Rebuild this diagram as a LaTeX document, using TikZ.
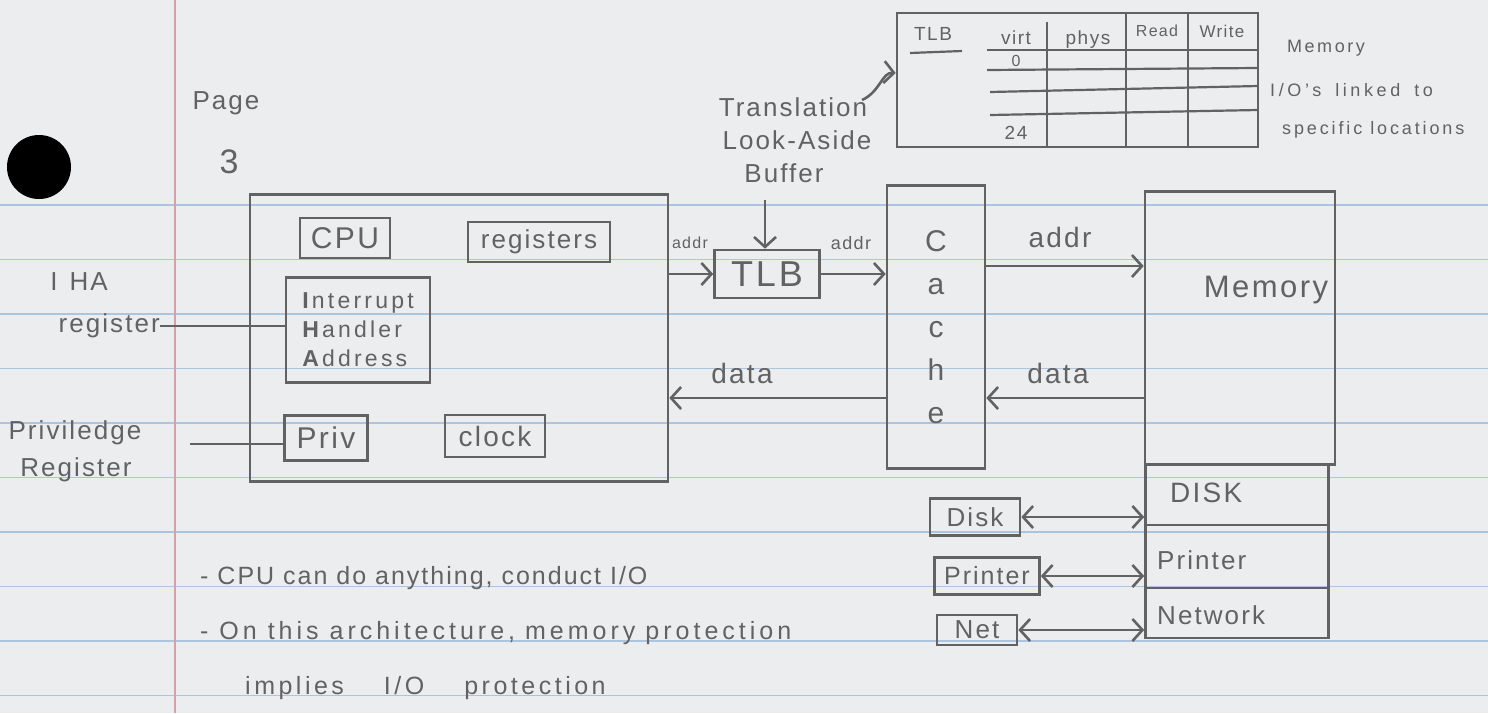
\documentclass[tikz,border=0pt]{standalone}
\usepackage{fontspec}
\setmainfont{Liberation Sans}[LetterSpace=8]
\usetikzlibrary{arrows.meta}
\definecolor{paper}{RGB}{236,237,239}
\definecolor{ink}{RGB}{98,98,100}
\definecolor{rule}{RGB}{172,196,224}
\definecolor{margin}{RGB}{214,160,170}
\newcommand{\fs}[1]{\fontsize{#1}{#1}\selectfont}
\tikzset{
  pencil/.style={draw=ink, line width=2.6pt},
  box/.style={pencil, rectangle, inner sep=0pt, text=ink},
  lbl/.style={text=ink, inner sep=0pt},
  arr/.style={pencil, -{Straight Barb[length=10pt,width=22pt,line width=2.6pt]}},
  darr/.style={pencil, {Straight Barb[length=10pt,width=22pt,line width=2.6pt]}-{Straight Barb[length=10pt,width=22pt,line width=2.6pt]}},
  thinline/.style={draw=ink, line width=2.2pt}
}
\begin{document}
\begin{tikzpicture}[x=1pt,y=-1pt]
\useasboundingbox (0,0) rectangle (1488,713);
\fill[paper] (0,0) rectangle (1488,713);
% ruled lines
\foreach \yy in {205,259.5,314,368.5,423,477.5,532,586.5,641,695.5}
  \draw[rule, line width=1.6pt] (0,\yy) -- (1488,\yy);
\draw[margin, line width=2pt] (175,0) -- (175,713);
\fill[black] (39,167) circle (32);

% page number
\node[lbl, font=\fs{26}] (pg) at (226,103) {Page};
\node[lbl, font=\fs{34}] (pgn) at (229,162) {3};

% CPU big box and inner boxes
\node[box, minimum width=418pt, minimum height=287pt] (cpu) at (459,338) {};
\node[box, minimum width=90pt, minimum height=40pt, font=\fs{30}] (cpul) at (345,238) {CPU};
\node[box, minimum width=142pt, minimum height=40pt, font=\fs{26}] (regs) at (539,242) {registers};
\node[box, minimum width=144pt, minimum height=105pt, align=left, font=\fontsize{23}{29}\selectfont\addfontfeatures{LetterSpace=14}] (iha) at (358,330) {\textbf{I}nterrupt\\\textbf{H}andler\\\textbf{A}ddress};
\node[box, minimum width=83pt, minimum height=45pt, font=\fs{30}] (priv) at (326,438) {Priv};
\node[box, minimum width=100pt, minimum height=42pt, font=\fs{28}] (clock) at (495,436) {clock};

% left labels
\node[lbl, font=\fs{26}] (ihat) at (79,282) {I\hspace{12pt}H\hspace{2pt}A};
\node[lbl, font=\fs{26}, anchor=east] (ihar) at (160,326) {register};
\draw[thinline] (ihar.east) -- (ihar.east -| iha.west);
\node[lbl, font=\fs{26}] (privt) at (75,433) {Priviledge};
\node[lbl, font=\fs{26}] (privr) at (76,470) {Register};
\coordinate (pst) at (190,444);
\draw[thinline] (pst) -- (pst -| priv.west);

% TLB
\node[box, minimum width=105pt, minimum height=48pt, font=\fs{36}] (tlb) at (767,274) {TLB};
\node[lbl, font=\fs{26}] (tr1) at (793,107) {Translation};
\node[lbl, font=\fs{26}] (tr2) at (797,140) {Look-Aside};
\node[lbl, font=\fs{26}] (tr3) at (784,173) {Buffer};
\coordinate (tdn) at (765,200);
\draw[arr] (tdn) -- (tdn |- tlb.north);
\coordinate (cstart) at (862,100);
\coordinate (cend) at (897,73);

% TLB table
\node[box, minimum width=361pt, minimum height=134pt] (tab) at (1077.5,80) {};
\draw[arr] (cstart) .. controls (880,92) and (882,72) .. (tab.west |- cend);
\draw[thinline] (1047,22) -- (1047,147);
\draw[thinline] (1126,13) -- (1126,147);
\draw[thinline] (1188,13) -- (1188,147);
\draw[thinline] (987,50) -- (1258,50);
\draw[thinline] (987,70) -- (1258,68);
\draw[thinline] (990,92) -- (1258,86);
\draw[thinline] (990,115) -- (1258,110);
\draw[thinline] (910,53) -- (962,51);
\node[lbl, font=\fs{19}] (th1) at (933,34) {TLB};
\node[lbl, font=\fs{19}] (th2) at (1016,38) {virt};
\node[lbl, font=\fs{19}] (th3) at (1088,40) {phys};
\node[lbl, font=\fs{16}] (th4) at (1157,31) {Read};
\node[lbl, font=\fs{17}] (th5) at (1222,31) {Write};
\node[lbl, font=\fs{16}] (r0) at (1016,61) {0};
\node[lbl, font=\fs{19}] (r24) at (1016,133) {24};
\node[lbl, font=\fs{18}\addfontfeatures{LetterSpace=14}, anchor=west] (mn1) at (1287,48) {Memory};
\node[lbl, font=\fs{18}\addfontfeatures{LetterSpace=20}, anchor=west] (mn2) at (1270,90) {I/O's\hspace{14pt}linked\hspace{14pt}to};
\node[lbl, font=\fs{18}\addfontfeatures{LetterSpace=16}, anchor=west] (mn3) at (1282,130) {specific locations};

% Cache
\node[box, minimum width=98pt, minimum height=283pt, align=center, font=\fontsize{30}{43}\selectfont] (cache) at (936,327) {C\\a\\c\\h\\e};

% Memory
\node[box, minimum width=190pt, minimum height=273pt] (mem) at (1240,328) {};
\node[lbl, font=\fs{31}] (meml) at (1266,290) {Memory};
\node[box, minimum width=183pt, minimum height=60pt] (mdisk) at (1237,495) {};
\node[box, minimum width=183pt, minimum height=63pt] (mprn) at (1237,556.5) {};
\node[box, minimum width=183pt, minimum height=50pt] (mnet) at (1237,613) {};
\node[lbl, font=\fs{28}, anchor=west] (mdiskl) at (1170,493) {DISK};
\node[lbl, font=\fs{26}, anchor=west] (mprnl) at (1157,560) {Printer};
\node[lbl, font=\fs{26}, anchor=west] (mnetl) at (1157,615) {Network};

% devices
\node[box, minimum width=90pt, minimum height=37pt, font=\fs{26}] (ddisk) at (975,517) {Disk};
\node[box, minimum width=105pt, minimum height=37pt, font=\fs{25}] (dprn) at (987,576) {Printer};
\node[box, minimum width=80pt, minimum height=30pt, font=\fs{26}] (dnet) at (977,630) {Net};
\draw[darr] (ddisk.east) -- (ddisk.east -| mdisk.west);
\draw[darr] (dprn.east) -- (dprn.east -| mprn.west);
\draw[darr] (dnet.east) -- (dnet.east -| mnet.west);

% address / data paths
\draw[arr] (tlb.west -| cpu.east) -- (tlb.west);
\draw[arr] (tlb.east) -- (tlb.east -| cache.west);
\node[lbl, font=\fs{16}] (a1) at (690,243) {addr};
\node[lbl, font=\fs{18}] (a2) at (851,243) {addr};
\coordinate (ya) at (0,266);
\draw[arr] (cache.east |- ya) -- (mem.west |- ya);
\node[lbl, font=\fs{28}] (a3) at (1060,237) {addr};
\coordinate (yd) at (0,398);
\draw[arr] (mem.west |- yd) -- (cache.east |- yd);
\node[lbl, font=\fs{28}] (d1) at (1058,373) {data};
\draw[arr] (cache.west |- yd) -- (cpu.east |- yd);
\node[lbl, font=\fs{28}] (d2) at (742,373) {data};

% notes
\node[lbl, font=\fs{25}, anchor=west] (n1) at (200,578) {- CPU can do anything, conduct I/O};
\node[lbl, font=\fs{25}\addfontfeatures{LetterSpace=16}, anchor=west] (n2) at (200,633) {- On this architecture,\hspace{10pt}memory\hspace{10pt}protection};
\node[lbl, font=\fs{25}\addfontfeatures{LetterSpace=14}, anchor=west] (n3) at (245,688) {implies\hspace{40pt}I/O\hspace{40pt}protection};
\end{tikzpicture}
\end{document}
